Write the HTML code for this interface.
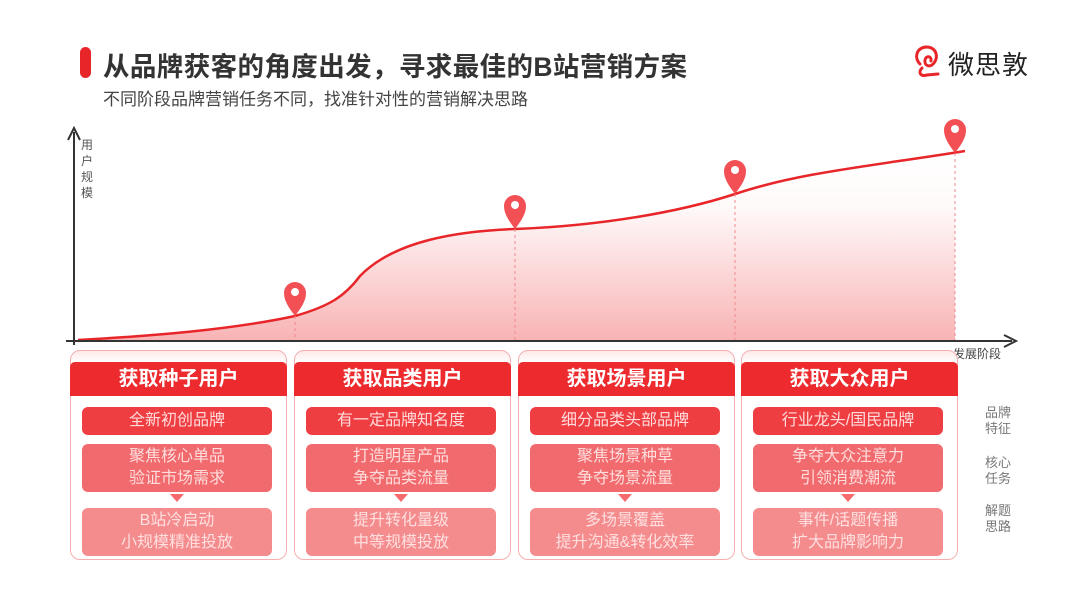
<!DOCTYPE html>
<html><head><meta charset="utf-8"><style>
body{margin:0;width:1080px;height:599px;background:#fff;position:relative;overflow:hidden;font-family:"Liberation Sans","Noto Sans CJK SC",sans-serif}
.a{position:absolute}
.title{left:103px;top:45px;font-size:26.5px;font-weight:bold;color:#333;letter-spacing:0.4px}
.sub{left:103px;top:85px;font-size:17px;color:#444}
.bar{left:80px;top:47px;width:11px;height:31px;background:#e8262a;border-radius:6px}
.card{width:217px;height:210px;top:350px;border:1px solid #f4b0b0;border-radius:10px;box-sizing:border-box;background:linear-gradient(#fdeaea,#fff 12px)}
.hd{left:-1px;top:11px;width:217px;height:34px;background:#ed2a2d;color:#fff;font-size:20px;font-weight:bold;text-align:center;line-height:34px;border-radius:5px 5px 0 0}
.b{left:11px;width:190px;border-radius:6px;text-align:center;font-size:16px;line-height:22px;color:rgba(255,228,228,0.95)}
.b1{top:56px;height:28px;line-height:28px;background:#ef3e42}
.b2{top:93px;height:48px;padding-top:2px;box-sizing:border-box;background:#f16a6d}
.b3{top:157px;height:48px;padding-top:2px;box-sizing:border-box;background:#f48c8e}
.ar{left:99px;top:143px;width:0;height:0;border-left:7px solid transparent;border-right:7px solid transparent;border-top:8px solid #f46a6d}
.rl{left:985px;font-size:13px;color:#777;line-height:16px;width:26px}
</style></head><body>
<div class="a bar"></div>
<div class="a title">从品牌获客的角度出发，寻求最佳的B站营销方案</div>
<div class="a sub">不同阶段品牌营销任务不同，找准针对性的营销解决思路</div>
<svg class="a" style="left:912px;top:44px" width="30" height="36" viewBox="0 0 30 36"><path d="M8 20 C2 14 4 4 14 3 C24 3 27 12 22 19 C18 24 12 22 13 16 C14 11 20 12 19 17 M10 24 C6 28 8 33 15 31 L26 30" fill="none" stroke="#e8262a" stroke-width="3" stroke-linecap="round"/></svg>
<div class="a" style="left:948px;top:45px;font-size:26px;color:#222;letter-spacing:1px">微思敦</div>

<svg class="a" style="left:0;top:0" width="1080" height="360">
<defs><linearGradient id="g" x1="0" y1="150" x2="0" y2="341" gradientUnits="userSpaceOnUse"><stop offset="0" stop-color="#ef4a4d" stop-opacity="0"/><stop offset="0.3" stop-color="#ef4a4d" stop-opacity="0.03"/><stop offset="1" stop-color="#ef4a4d" stop-opacity="0.42"/></linearGradient>
<g id="pin"><path d="M0 0 C-6 -8 -11 -15 -11 -23 A11 11 0 0 1 11 -23 C11 -15 6 -8 0 0Z" fill="#f25055"/><circle cx="0" cy="-24" r="4" fill="#fff"/></g></defs>
<path d="M74 150 L955 150 L955 341 L74 341Z" fill="url(#g)"/>
<path d="M74 150 L965 150 L965 151 C880 165 800 172 735 194 C680 212 600 226 515 229 C460 231 395 240 360 276 C345 296 330 306 295 316 C230 330 150 336 78 340 L74 340Z" fill="#fff"/>
<path d="M78 340 C150 336 230 330 295 316 C330 306 345 296 360 276 C395 240 460 231 515 229 C600 226 680 212 735 194 C800 172 880 165 965 151" fill="none" stroke="#e8262a" stroke-width="2.5"/>
<g stroke="#f08a8c" stroke-width="1" stroke-dasharray="3,3"><line x1="295" y1="316" x2="295" y2="341"/><line x1="515" y1="229" x2="515" y2="341"/><line x1="735" y1="194" x2="735" y2="341"/><line x1="955" y1="153" x2="955" y2="341"/></g>
<use href="#pin" x="295" y="316"/><use href="#pin" x="515" y="229"/><use href="#pin" x="735" y="194"/><use href="#pin" x="955" y="153"/>
<line x1="74" y1="345" x2="74" y2="132" stroke="#333" stroke-width="2"/><path d="M68 140 L74 128 L80 140" fill="none" stroke="#333" stroke-width="2"/>
<line x1="66" y1="341" x2="1012" y2="341" stroke="#333" stroke-width="2"/><path d="M1004 335 L1016 341 L1004 347" fill="none" stroke="#333" stroke-width="2"/>
</svg>
<div class="a" style="left:81px;top:137px;font-size:12px;color:#555;width:14px;line-height:16px">用户规模</div>
<div class="a" style="left:953px;top:345px;font-size:12px;color:#444">发展阶段</div>

<div class="a card" style="left:70px"><div class="a hd">获取种子用户</div><div class="a b b1">全新初创品牌</div><div class="a b b2">聚焦核心单品<br>验证市场需求</div><div class="a ar"></div><div class="a b b3">B站冷启动<br>小规模精准投放</div></div>
<div class="a card" style="left:294px"><div class="a hd">获取品类用户</div><div class="a b b1">有一定品牌知名度</div><div class="a b b2">打造明星产品<br>争夺品类流量</div><div class="a ar"></div><div class="a b b3">提升转化量级<br>中等规模投放</div></div>
<div class="a card" style="left:518px"><div class="a hd">获取场景用户</div><div class="a b b1">细分品类头部品牌</div><div class="a b b2">聚焦场景种草<br>争夺场景流量</div><div class="a ar"></div><div class="a b b3">多场景覆盖<br>提升沟通&amp;转化效率</div></div>
<div class="a card" style="left:741px"><div class="a hd">获取大众用户</div><div class="a b b1">行业龙头/国民品牌</div><div class="a b b2">争夺大众注意力<br>引领消费潮流</div><div class="a ar"></div><div class="a b b3">事件/话题传播<br>扩大品牌影响力</div></div>

<div class="a rl" style="top:405px">品牌特征</div>
<div class="a rl" style="top:455px">核心任务</div>
<div class="a rl" style="top:503px">解题思路</div>
</body></html>
